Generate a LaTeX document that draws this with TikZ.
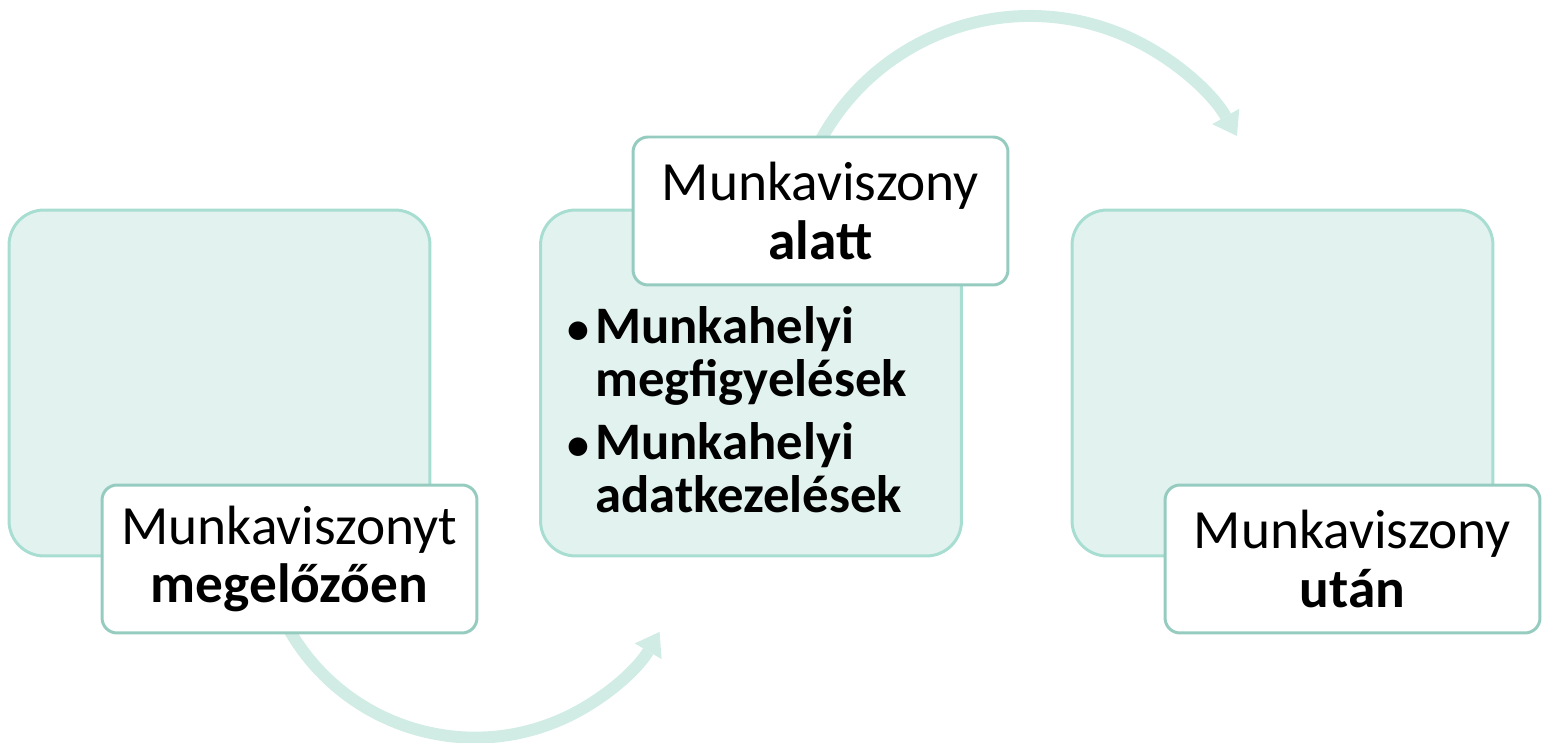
\documentclass[tikz,border=0pt]{standalone}
\usepackage{fontspec}
\setmainfont{Carlito}
\usetikzlibrary{arrows.meta}
\definecolor{boxfill}{HTML}{E2F3EF}
\definecolor{boxline}{HTML}{A8DDD1}
\definecolor{labline}{HTML}{96CCBF}
\definecolor{arrowc}{HTML}{D0ECE5}
\newcommand{\mybul}{\makebox[15.9pt][l]{\fontsize{25}{25}\selectfont\textbullet}}
\begin{document}
\begin{tikzpicture}[x=0.02cm,y=0.02cm,
  bigbox/.style={draw=boxline, fill=boxfill, line width=1.7pt, rounded corners=0.7cm,
    minimum width=8.42cm, minimum height=6.92cm, inner sep=0pt},
  labelbox/.style={draw=labline, fill=white, line width=1.7pt, rounded corners=0.3cm,
    minimum width=7.5cm, minimum height=2.96cm, inner sep=0pt, align=center,
    font=\fontsize{31.5}{33.4}\selectfont},
  itemtext/.style={anchor=base west, inner sep=0pt, align=left,
    font=\fontsize{30}{30.4}\selectfont\bfseries},
  conn/.style={draw=arrowc, line width=6.8pt,
    -{Triangle[width=17.7pt,length=12.8pt,line width=0pt]}}]
\useasboundingbox (0,0) rectangle (1544,743);
% big boxes
\node[bigbox] (b1) at (219.5,360) {};
\node[bigbox] (b2) at (751,360) {};
\node[bigbox] (b3) at (1282.5,360) {};
% bullet list in middle box
\node[itemtext] (i1) at (567,346.3) {\mybul Munkahelyi\\\hspace*{15.9pt}megfigyelések};
\node[itemtext] (i2) at (567,230) {\mybul Munkahelyi\\\hspace*{15.9pt}adatkezelések};
% curved arrows
\coordinate (a1s) at (281.05,128.96);
\coordinate (a2s) at (813.84,589.29);
\draw[conn] (a1s) arc[start angle=205, end angle=329.6, radius=214];
\draw[conn] (a2s) arc[start angle=155, end angle=29.8, radius=238.5];
% labels
\node[labelbox] (l1) at (289.5,184) {Munkaviszonyt\\\textbf{megelőzően}};
\node[labelbox] (l2) at (820.5,532) {Munkaviszony\\\textbf{alatt}};
\node[labelbox] (l3) at (1352.5,184) {Munkaviszony\\\textbf{után}};
\end{tikzpicture}
\end{document}
